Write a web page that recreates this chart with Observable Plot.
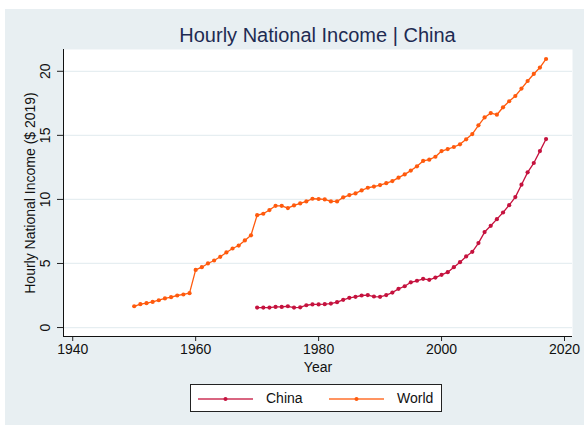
<!DOCTYPE html>
<html>
<head>
<meta charset="utf-8">
<script src="https://cdn.jsdelivr.net/npm/d3@7"></script>
<script src="https://cdn.jsdelivr.net/npm/@observablehq/plot@0.6"></script>
<style>
  html, body { margin: 0; padding: 0; background: #ffffff; }
  body { width: 584px; height: 425px; position: relative; overflow: hidden;
         font-family: "Liberation Sans", Arial, Helvetica, sans-serif; }
  #bg { position: absolute; left: 5px; top: 9px; width: 579px; height: 416px; background: #E8EFF2; }
  #title { position: absolute; left: 63px; width: 509px; top: 23px; line-height: 24px;
           font-size: 20px; color: #1E2B52; text-align: center; white-space: nowrap; }
  #chart { position: absolute; left: 5px; top: 45px; }
  #legend { position: absolute; left: 190px; top: 384px; width: 250px; height: 26px;
            background: #ffffff; border: 1px solid #222; }
  .item { position: absolute; top: 0; height: 26px; }
  .item svg { position: absolute; top: 0; }
  .item span { position: absolute; top: 4px; font-size: 14px; line-height: 18px; color: #111; }
</style>
</head>
<body>
<div id="bg"></div>
<div id="title">Hourly National Income | China</div>
<div id="chart"></div>
<div id="legend"></div>
<script>
// ---- data ----
const seriesNames = ["China", "World"];
const seriesColors = ["#C5123E", "#FF5A0D"];

const worldStart = 1950;
const worldValues = [
  1.66, 1.82, 1.90, 2.00, 2.13, 2.27, 2.37, 2.50, 2.58, 2.68,
  4.50, 4.71, 5.00, 5.23, 5.52, 5.86, 6.17, 6.40, 6.80, 7.20,
  8.77, 8.88, 9.17, 9.50, 9.50, 9.32, 9.53, 9.69, 9.84, 10.05,
  10.03, 10.00, 9.84, 9.84, 10.16, 10.34, 10.47, 10.70, 10.91, 11.00,
  11.12, 11.27, 11.43, 11.70, 11.95, 12.25, 12.58, 13.00, 13.10, 13.33,
  13.77, 13.93, 14.09, 14.30, 14.69, 15.10, 15.78, 16.40, 16.74, 16.61,
  17.19, 17.66, 18.07, 18.65, 19.24, 19.79, 20.29, 20.96
];

const chinaStart = 1970;
const chinaValues = [
  1.56, 1.56, 1.56, 1.61, 1.61, 1.66, 1.56, 1.58, 1.74, 1.80,
  1.80, 1.82, 1.87, 1.98, 2.16, 2.32, 2.40, 2.50, 2.53, 2.42,
  2.40, 2.53, 2.73, 3.02, 3.22, 3.53, 3.65, 3.80, 3.72, 3.90,
  4.11, 4.32, 4.71, 5.10, 5.55, 5.91, 6.59, 7.45, 7.94, 8.46,
  8.98, 9.55, 10.18, 11.15, 12.11, 12.84, 13.77, 14.71
];

const xTicks = [1940, 1960, 1980, 2000, 2020];
const yTicks = [0, 5, 10, 15, 20];

const titleText = "Hourly National Income | China";
const xLabel = "Year";
const yLabel = "Hourly National Income ($ 2019)";

// ---- build table ----
const rows = [];
chinaValues.forEach((v, i) => rows.push({series: "China", year: chinaStart + i, value: v}));
worldValues.forEach((v, i) => rows.push({series: "World", year: worldStart + i, value: v}));

const xDomain = [1938.5, 2021.3];
const yDomain = [-0.7, 21.7];
const font = "'Liberation Sans', Arial, Helvetica, sans-serif";

const chart = Plot.plot({
  width: 579,
  height: 335,
  marginLeft: 58,
  marginRight: 12,
  marginTop: 4,
  marginBottom: 44,
  style: {background: "transparent", fontFamily: font, fontSize: "14px", color: "#111"},
  x: {domain: xDomain},
  y: {domain: yDomain},
  color: {domain: seriesNames, range: seriesColors},
  marks: [
    Plot.frame({fill: "#ffffff", stroke: null}),
    Plot.gridY(yTicks, {stroke: "#E6EEF1", strokeOpacity: 1, strokeWidth: 1.2}),
    Plot.axisX({ticks: xTicks, tickFormat: "d", tickSize: 5, tickPadding: 3, label: null, fontSize: 14, stroke: "#222"}),
    Plot.axisY({ticks: yTicks, tickSize: 6, tickFormat: () => "", label: null, stroke: "#222"}),
    Plot.text(yTicks, {y: d => d, text: d => String(d), frameAnchor: "left", dx: -18, rotate: -90,
      textAnchor: "middle", lineAnchor: "middle", fontSize: 14, fill: "#111"}),
    Plot.text([xLabel], {text: d => d, frameAnchor: "bottom", dy: 31, lineAnchor: "middle", fontSize: 14, fill: "#111"}),
    Plot.text([yLabel], {text: d => d, frameAnchor: "left", dx: -33, rotate: -90,
      textAnchor: "middle", lineAnchor: "middle", fontSize: 14, fill: "#111"}),
    Plot.ruleX([xDomain[0]], {stroke: "#111", strokeWidth: 1}),
    Plot.ruleY([yDomain[0]], {stroke: "#111", strokeWidth: 1}),
    Plot.line(rows, {x: "year", y: "value", z: "series", stroke: "series", strokeWidth: 1.3}),
    Plot.dot(rows, {x: "year", y: "value", fill: "series", r: 2.1, stroke: null})
  ]
});
document.getElementById("chart").appendChild(chart);

// ---- legend ----
const legend = document.getElementById("legend");
const itemLeft = [7, 138];
seriesNames.forEach((name, i) => {
  const item = document.createElement("div");
  item.className = "item";
  item.style.left = itemLeft[i] + "px";
  item.style.width = "110px";
  const ns = "http://www.w3.org/2000/svg";
  const svg = document.createElementNS(ns, "svg");
  svg.setAttribute("width", "56");
  svg.setAttribute("height", "26");
  const ln = document.createElementNS(ns, "line");
  ln.setAttribute("x1", "0"); ln.setAttribute("x2", "55");
  ln.setAttribute("y1", "14"); ln.setAttribute("y2", "14");
  ln.setAttribute("stroke", seriesColors[i]);
  ln.setAttribute("stroke-opacity", "0.65");
  ln.setAttribute("stroke-width", "2");
  svg.appendChild(ln);
  const c = document.createElementNS(ns, "circle");
  c.setAttribute("cx", "27.5"); c.setAttribute("cy", "14"); c.setAttribute("r", "2");
  c.setAttribute("fill", seriesColors[i]);
  svg.appendChild(c);
  item.appendChild(svg);
  const sp = document.createElement("span");
  sp.style.left = "68px";
  sp.textContent = name;
  item.appendChild(sp);
  legend.appendChild(item);
});
</script>
</body>
</html>
